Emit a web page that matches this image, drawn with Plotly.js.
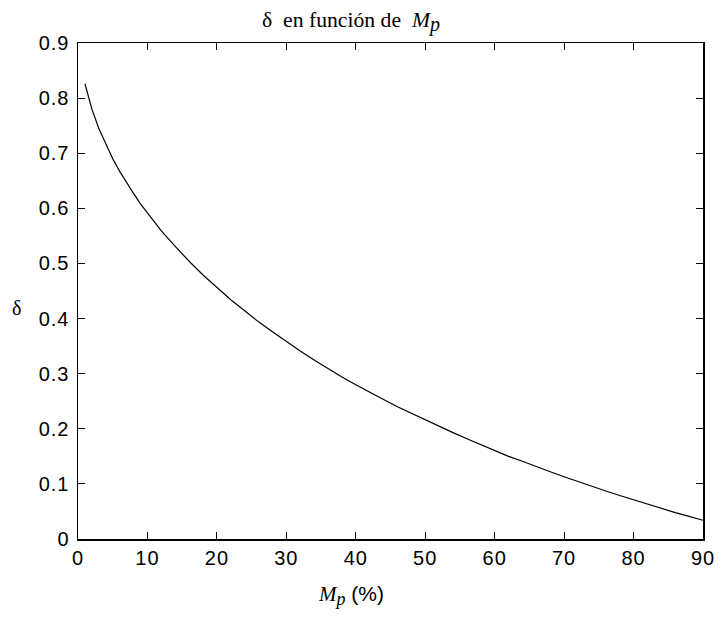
<!DOCTYPE html>
<html>
<head>
<meta charset="utf-8">
<script src="https://cdn.plot.ly/plotly-3.0.1.min.js"></script>
<style>html,body{margin:0;padding:0;background:#fff;}#chart{width:721px;height:619px;}</style>
</head>
<body>
<div id="chart"></div>
<script>
// Overshoot Mp (%) and damping ratio delta
const mp = [1,2,3,4,5,6,7,8,9,10,12,14,16,18,20,22,24,26,28,30,32,34,36,38,40,42,44,46,48,50,52,54,56,58,60,62,64,66,68,70,72,74,76,78,80,82,84,86,88,90];
const delta = [0.826,0.780,0.745,0.716,0.690,0.667,0.646,0.627,0.608,0.591,0.559,0.531,0.504,0.479,0.456,0.434,0.414,0.394,0.376,0.358,0.341,0.325,0.309,0.294,0.280,0.266,0.253,0.240,0.228,0.216,0.204,0.193,0.182,0.171,0.161,0.150,0.141,0.131,0.122,0.113,0.104,0.095,0.087,0.079,0.071,0.063,0.055,0.048,0.041,0.034];
const xTicks = [0,10,20,30,40,50,60,70,80,90];
const xTickText = ['0','10','20','30','40','50','60','70','80','90'];
const yTicks = [0,0.1,0.2,0.3,0.4,0.5,0.6,0.7,0.8,0.9];
const yTickText = ['0','0.1','0.2','0.3','0.4','0.5','0.6','0.7','0.8','0.9'];

const SANS = 'Liberation Sans';
const SERIF = 'Liberation Serif';
const spaced = s => '<span style="letter-spacing:1px">' + s + '</span>';

const axisCommon = {
  showgrid:false, zeroline:false, showline:true, linecolor:'#000', linewidth:1.5,
  mirror:'ticks', ticks:'inside', ticklen:7, tickwidth:1, tickcolor:'#000',
  tickfont:{family:SANS, size:20, color:'#000'}
};

const trace = {x:mp, y:delta, type:'scatter', mode:'lines', line:{color:'#000', width:1.2}, hoverinfo:'skip'};

const layout = {
  width:721, height:619,
  margin:{l:78, r:18, t:43, b:80},
  paper_bgcolor:'#fff', plot_bgcolor:'#fff',
  showlegend:false,
  font:{family:SERIF, color:'#000'},
  title:{text:'δ\u00A0\u00A0en función de\u00A0\u00A0<i>M<sub><span style="font-size:20px">p</span></sub></i>',
         font:{family:SERIF, size:21.7, color:'#000'},
         xref:'container', x:262/721, xanchor:'left', yref:'container', y:1-19/619, yanchor:'middle'},
  xaxis:Object.assign({}, axisCommon, {range:[0,90], tickvals:xTicks, ticktext:xTickText.map(spaced)}),
  yaxis:Object.assign({}, axisCommon, {range:[0,0.9], tickvals:yTicks, ticktext:yTickText.map(spaced), ticklabelstandoff:3}),
  annotations:[
    {text:'<i>M<sub><span style="font-size:18px">p</span></sub></i><span style="font-family:Liberation Sans;font-size:21px"> (%)</span>',
     xref:'paper', yref:'paper', x:(351-78)/625, y:0, yanchor:'top', yshift:-41, showarrow:false,
     font:{family:SERIF, size:21, color:'#000'}},
    {text:'δ', xref:'paper', yref:'paper', x:(17-78)/625, y:(539-308)/496, xanchor:'center', yanchor:'middle', showarrow:false,
     font:{family:SERIF, size:20, color:'#000'}}
  ]
};

Plotly.newPlot('chart', [trace], layout, {staticPlot:true, displayModeBar:false});
</script>
</body>
</html>
